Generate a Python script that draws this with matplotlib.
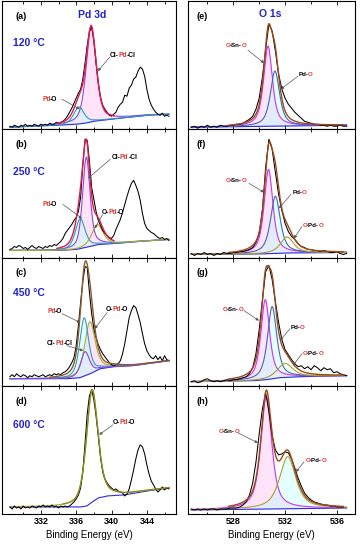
# XPS Pd 3d / O 1s spectra at four annealing temperatures

import numpy as np
import matplotlib.pyplot as plt
import matplotlib.transforms as mtransforms
from matplotlib.font_manager import FontProperties

plt.rcParams['font.family'] = ['Liberation Sans', 'DejaVu Sans']
plt.rcParams['font.weight'] = 'bold'

# binding energy grids of the measured spectra
e_pd = np.arange(328.5, 346.5 + 0.01, 0.25)
e_o = np.arange(524.75, 536.75 + 0.01, 0.25)

temps = ["120 °C", "250 °C", "450 °C", "600 °C"]

# measured Pd 3d counts (a.u.)
raw_a = [3, 2, 4, 3, 2, 4, 3, 5, 3, 4, 3, 5, 4, 3, 5, 4, 5, 4, 6, 5,
         5, 7, 6, 7, 8, 10, 13, 17, 21, 26, 31, 36, 40, 50, 66, 84,
         98, 102, 88, 66, 46, 32, 24, 20, 17, 14, 13, 15, 17, 22, 25, 27,
         34, 33, 41, 44, 50, 52, 58, 62, 60, 53, 40, 30, 24, 20, 17, 15,
         14, 16, 13, 14, 13]
raw_b = [8, 9, 11, 10, 12, 11, 9, 10, 8, 10, 12, 10, 9, 11, 10, 9, 11, 10, 12, 11,
         13, 12, 14, 16, 19, 24, 27, 30, 33, 37, 40, 46, 60, 92, 118, 117,
         96, 70, 58, 46, 37, 32, 27, 24, 22, 20, 19, 22, 28, 33, 38, 45,
         53, 61, 68, 74, 77, 72, 66, 57, 44, 34, 29, 27, 25, 24, 22, 20,
         19, 20, 18, 19, 17]
raw_c = [9, 11, 9, 12, 10, 9, 11, 10, 8, 10, 9, 11, 10, 9, 10, 11, 9, 10, 11, 10,
         12, 11, 12, 11, 13, 14, 16, 19, 23, 28, 40, 60, 83, 104, 119, 118,
         93, 72, 57, 48, 41, 36, 32, 29, 26, 23, 21, 20, 21, 22, 25, 32,
         42, 55, 68, 75, 80, 78, 71, 63, 52, 42, 35, 31, 28, 27, 30, 26,
         29, 25, 30, 26, 25]
raw_d = [7, 5, 8, 6, 7, 5, 8, 6, 7, 6, 8, 7, 6, 8, 7, 9, 7, 8, 7, 9,
         7, 8, 6, 8, 7, 8, 7, 8, 10, 12, 15, 19, 26, 42, 70, 100,
         118, 124, 114, 98, 78, 57, 42, 35, 31, 28, 26, 24, 25, 23, 22, 21,
         18, 20, 25, 34, 44, 55, 64, 69, 67, 60, 49, 40, 33, 29, 25, 22,
         24, 27, 24, 26, 25]

# measured O 1s counts (a.u.)
raw_e = [2, 3, 1, 3, 2, 4, 2, 3, 2, 4, 3, 3, 4, 4, 5, 5, 6, 8, 10, 13, 20,
         31, 52, 80, 105, 98, 78, 55, 40, 31, 25, 21, 17, 14, 11, 8, 7,
         6, 5, 5, 4, 4, 3, 4, 3, 3, 4, 3, 3]
raw_f = [4, 2, 4, 3, 5, 3, 4, 2, 4, 3, 5, 4, 4, 5, 5, 6, 6, 7, 8, 10, 15,
         24, 48, 90, 118, 108, 85, 63, 47, 34, 26, 21, 18, 14, 11, 10, 8,
         8, 7, 7, 6, 7, 6, 5, 5, 6, 4, 3, 4]
raw_g = [4, 5, 3, 4, 6, 7, 5, 4, 5, 4, 5, 6, 5, 6, 6, 7, 8, 9, 12, 18, 32,
         56, 86, 114, 120, 106, 84, 63, 46, 36, 31, 26, 22, 19, 20, 17, 19,
         16, 20, 18, 15, 18, 16, 17, 13, 14, 12, 11, 10]
raw_h = [5, 4, 5, 4, 5, 4, 5, 5, 4, 5, 5, 5, 6, 6, 6, 7, 9, 12, 19, 31, 52,
         80, 105, 121, 102, 78, 64, 59, 60, 62, 61, 55, 46, 36, 28, 21, 17,
         14, 12, 11, 10, 9, 9, 8, 8, 7, 7, 7, np.nan]

# Shirley-type backgrounds (energy, counts)
bg_a_x = [328.5, 334.0, 336.0, 337.0, 338.0, 339.9, 342.0, 344.0, 346.5]
bg_a_y = [2, 4, 5, 6, 8, 10, 12, 14, 15]
bg_b_x = [328.5, 334.0, 336.0, 337.0, 338.5, 340.5, 343.0, 346.5]
bg_b_y = [7, 7, 8, 10, 13, 14, 16, 18]
bg_c_x = [328.5, 335.0, 336.4, 337.6, 338.7, 340.2, 342.4, 346.5]
bg_c_y = [7, 7, 8, 12, 17, 19, 20, 25]
bg_d_x = [328.5, 336.5, 337.2, 337.8, 338.5, 339.5, 341.4, 344.0, 346.5]
bg_d_y = [7, 7, 8, 12, 16, 18, 19, 23, 26]
bg_e_x = [524.75, 536.75]
bg_e_y = [2, 4]
bg_f_x = [524.75, 530.0, 532.0, 536.75]
bg_f_y = [3, 3.5, 4.5, 5]
bg_g_x = [524.75, 529.5, 530.5, 531.5, 533.0, 536.75]
bg_g_y = [4, 5, 6, 8, 9, 10]
bg_h_x = [524.75, 536.75]
bg_h_y = [4, 6]

# fitted components: (species, centre eV, height, FWHM eV)
peaks_a = [("Cl-Pd-Cl", 337.7, 94, 1.35), ("Pd-O", 336.3, 17, 1.4)]
peaks_b = [("Cl-Pd-Cl", 337.15, 90, 1.0), ("Pd-O", 336.45, 30, 1.3),
           ("O-Pd-O", 338.4, 20, 1.5)]
peaks_c = [("O-Pd-O", 337.55, 52, 1.4), ("Pd-O", 336.9, 58, 1.2),
           ("Cl-Pd-Cl", 337.0, 24, 1.2)]
peaks_d = [("O-Pd-O", 337.8, 112, 1.55)]
peaks_e = [("O-Sn-O", 530.68, 80, 0.8), ("Pd-O", 531.22, 55, 0.85)]
peaks_f = [("O-Sn-O", 530.72, 84, 0.8), ("Pd-O", 531.25, 57, 0.9),
           ("O-Pd-O", 532.15, 16, 1.2)]
peaks_g = [("O-Sn-O", 530.47, 80, 0.8), ("Pd-O", 531.0, 72, 0.85),
           ("O-Pd-O", 532.0, 14, 1.4)]
peaks_h = [("O-Sn-O", 530.55, 112, 1.0), ("O-Pd-O", 532.2, 52, 1.5)]


def pv(x, c, a, w, m):
    r = (x - c) / w
    return a * (m / (1 + 4 * r ** 2) + (1 - m) * np.exp(-4 * np.log(2) * r ** 2))


RED = '#e0352a'
BLUE_TXT = '#2222cc'

pd_cols = {"Cl-Pd-Cl": '#8a45e0', "Pd-O": '#2f9cbc', "O-Pd-O": '#b0a828'}
o_cols = {"O-Sn-O": '#cc33ee', "Pd-O": '#4466bb', "O-Pd-O": '#a8a030'}

panels = [
    # letter, energy, raw, bg, peaks, envelope colour, envelope window, col
    ("a", e_pd, raw_a, bg_a_x, bg_a_y, peaks_a, '#e61e50', (333.8, 340.3), 0),
    ("b", e_pd, raw_b, bg_b_x, bg_b_y, peaks_b, '#d81c48', (333.8, 340.3), 0),
    ("c", e_pd, raw_c, bg_c_x, bg_c_y, peaks_c, '#8b5a2b', (333.0, 346.5), 0),
    ("d", e_pd, raw_d, bg_d_x, bg_d_y, peaks_d, '#8c8c20', (334.5, 346.5), 0),
    ("e", e_o, raw_e, bg_e_x, bg_e_y, peaks_e, '#9a4a1a', (527.6, 536.5), 1),
    ("f", e_o, raw_f, bg_f_x, bg_f_y, peaks_f, '#9a4a1a', (527.6, 536.5), 1),
    ("g", e_o, raw_g, bg_g_x, bg_g_y, peaks_g, '#9a4a1a', (527.6, 536.5), 1),
    ("h", e_o, raw_h, bg_h_x, bg_h_y, peaks_h, '#9a4a1a', (527.6, 536.5), 1),
]

k = 'k'
txt = {
    "Cl-Pd-Cl": [("Cl-", k), ("Pd", RED), ("-Cl", k)],
    "Pd-O": [("Pd", RED), ("-O", k)],
    "O-Pd-O": [("O-", k), ("Pd", RED), ("-O", k)],
    "O-Sn-O": [("O", RED), ("-Sn-", k), ("O", RED)],
    "Pd-O1s": [("Pd-", k), ("O", RED)],
    "O-Pd-O1s": [("O", RED), ("-Pd-", k), ("O", RED)],
}

# label: text position, arrow start, arrow tip
notes = {
    "a": [("Cl-Pd-Cl", (339.85, 75), (339.8, 72), (338.45, 58)),
          ("Pd-O", (332.2, 31), (334.4, 30), (336.4, 20))],
    "b": [("Cl-Pd-Cl", (340.05, 101), (339.85, 98), (337.35, 79)),
          ("Pd-O", (332.2, 54), (334.5, 53), (336.65, 39)),
          ("O-Pd-O", (338.9, 46), (339.0, 43), (338.1, 29))],
    "c": [("Pd-O", (332.7, 75), (334.4, 72), (336.45, 63)),
          ("O-Pd-O", (339.4, 77), (339.5, 73), (338.1, 57)),
          ("Cl-Pd-Cl", (332.7, 43), (334.96, 40), (336.8, 35))],
    "d": [("O-Pd-O", (340.15, 92), (340.15, 89), (338.6, 79))],
    "e": [("O-Sn-O", (527.4, 85), (529.13, 79), (530.37, 66)),
          ("Pd-O1s", (533.05, 56), (532.99, 53), (531.68, 40))],
    "f": [("O-Sn-O", (527.4, 78), (529.21, 74), (530.37, 65)),
          ("Pd-O1s", (532.6, 66), (532.45, 63), (531.53, 49)),
          ("O-Pd-O1s", (533.4, 33), (533.3, 31), (532.69, 19))],
    "g": [("O-Sn-O", (527.2, 77), (528.82, 75), (529.98, 65)),
          ("Pd-O1s", (532.45, 59), (532.38, 57), (531.6, 45)),
          ("O-Pd-O1s", (533.4, 33), (533.3, 32), (532.6, 20))],
    "h": [("O-Sn-O", (526.9, 83), (528.36, 81), (529.9, 71)),
          ("O-Pd-O1s", (533.6, 54), (533.46, 52), (532.84, 42))],
}

fig = plt.figure(figsize=(3.62, 5.5), dpi=100)
renderer = fig.canvas.get_renderer()


def text_w(s, fs):
    fp = FontProperties(family=['Liberation Sans', 'DejaVu Sans'], weight='bold', size=fs)
    w, h, d = renderer.get_text_width_height_descent(s, fp, ismath=False)
    return w


def tag(ax, parts, xytext, xystart, xy, fs):
    ax.annotate('', xy=xy, xytext=xystart, zorder=6,
                arrowprops=dict(arrowstyle='-|>', color='#555555', lw=0.5,
                                mutation_scale=4, shrinkA=0, shrinkB=0))
    prefix = ""
    for s, c in parts:
        # pull each piece back a little so the word reads without gaps
        dx = text_w(prefix + s, fs) - text_w(s, fs) - 0.9 if prefix else 0
        tr = mtransforms.offset_copy(ax.transData, fig=fig, x=dx, y=0, units='dots')
        ax.text(xytext[0], xytext[1], s, color=c, fontsize=fs, transform=tr,
                ha='left', va='baseline', zorder=7)
        prefix += s


row_h = 128.25 / 550

for idx, (let, en, raw, bx, by, peaks, env_col, win, col) in enumerate(panels):
    row = idx % 4
    y0 = 1 - (1 + (row + 1) * 128.25) / 550
    if col == 0:
        ax = fig.add_axes([2 / 362, y0, 174 / 362, row_h])
        ax.set_xlim(327.6, 347.3)
        ax.set_xticks([332, 336, 340, 344])
        ax.set_xticks([330, 334, 338, 342, 346], minor=True)
        cols = pd_cols
        m = 0.5
    else:
        ax = fig.add_axes([188 / 362, y0, 167 / 362, row_h])
        ax.set_xlim(524.5, 537.4)
        ax.set_xticks([528, 532, 536])
        ax.set_xticks([526, 530, 534], minor=True)
        cols = o_cols
        m = 0.7
    ax.set_ylim(0, 128)
    ax.set_yticks([])

    xf = np.linspace(en[0], en[-1], 600)
    bgf = np.interp(xf, bx, by)
    comps = [pv(xf, c, a, w, m) for _, c, a, w in peaks]

    if let != "d":
        for comp, fc in zip(comps, ['#ffb0ee', '#b0ffff']):
            ax.fill_between(xf, bgf, bgf + comp, color=fc, alpha=0.35, lw=0, zorder=1)

    ax.plot(en, raw, color='k', lw=0.75, zorder=4)
    ax.plot(xf, bgf, color='#2a2ae0', lw=0.8, zorder=3)
    for (name, _, _, _), comp in zip(peaks, comps):
        ax.plot(xf, bgf + comp, color=cols[name], lw=0.8, zorder=3)
    env = bgf + np.sum(comps, axis=0)
    sel = (xf >= win[0]) & (xf <= win[1])
    ax.plot(xf[sel], env[sel], color=env_col, lw=1.0, zorder=5)

    for name, xt, xs, xy in notes[let]:
        tag(ax, txt[name], (xt[0], xt[1] - 2.5), xs, xy, 4.8 if col == 0 else 4.4)

    lx = 0.08 if col == 0 else 0.05
    ax.text(lx, 0.88, "(%s)" % let, transform=ax.transAxes, fontsize=6.5,
            ha='left', va='center')
    if col == 0:
        ax.text(0.063, [0.67, 0.665, 0.72, 0.695][row], temps[row],
                transform=ax.transAxes, fontsize=7.5, color=BLUE_TXT,
                ha='left', va='center')
    if idx == 0:
        ax.text(0.517, 0.89, "Pd 3d", transform=ax.transAxes, fontsize=7.5,
                color=BLUE_TXT, ha='center', va='center')
    if idx == 4:
        ax.text(0.49, 0.9, "O 1s", transform=ax.transAxes, fontsize=7.5,
                color=BLUE_TXT, ha='center', va='center')

    ax.tick_params(axis='x', which='both', direction='in', top=True, bottom=True,
                   width=0.6, labelsize=6.5, pad=2, labelbottom=(row == 3))
    ax.tick_params(axis='x', which='major', length=3)
    ax.tick_params(axis='x', which='minor', length=1.8)
    for s in ax.spines.values():
        s.set_linewidth(0.8)
    if row == 3:
        ax.set_xlabel("Binding Energy (eV)", fontsize=7, labelpad=3)

fig.savefig("out.png", dpi=100)
